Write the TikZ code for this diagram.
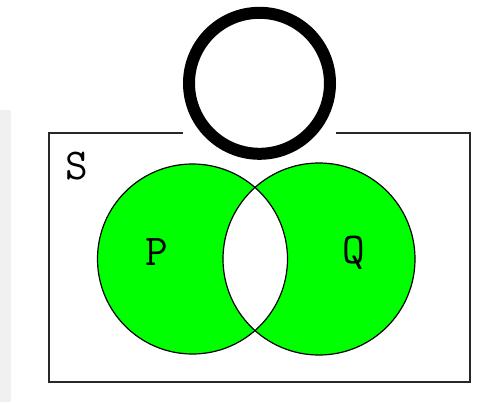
\documentclass[tikz,border=0pt]{standalone}
\definecolor{vgreen}{RGB}{0,255,0}
\definecolor{boxgray}{RGB}{40,40,40}
\definecolor{edgegray}{RGB}{240,240,240}
\tikzset{
  setcircle/.style={draw=black, line width=1.2pt},
  setlabel/.style={font=\ttfamily\fontsize{44}{44}\selectfont, text=black, inner sep=0pt},
}
\begin{document}
\begin{tikzpicture}[x=1pt,y=-1pt]
\useasboundingbox (0,0) rectangle (495,402);
\fill[white] (0,0) rectangle (495,402);
\fill[edgegray] (0,110) rectangle (11,402);
% universe box
\draw[boxgray, line width=2.4pt] (49,133) rectangle (470,382);
% set centres
\coordinate (cP) at (192.5,259);
\coordinate (cQ) at (319,259);
% symmetric difference filled
\fill[vgreen, even odd rule] (cP) circle[radius=95] (cQ) circle[radius=96];
\draw[setcircle] (cP) circle[radius=95];
\draw[setcircle] (cQ) circle[radius=96];
% white patch behind the symbol
\fill[white] (183,0) rectangle (336,162);
% empty-set symbol (big ring)
\coordinate (cO) at (259.5,83.3);
\draw[black, line width=12pt] (cO) circle[radius=70.5];
% labels
\node[setlabel] (S) at (77,166.5) {S};
\node[setlabel] (P) at (156.5,252) {P};
\node[setlabel] (Q) at (353.5,253) {Q};
\end{tikzpicture}
\end{document}
